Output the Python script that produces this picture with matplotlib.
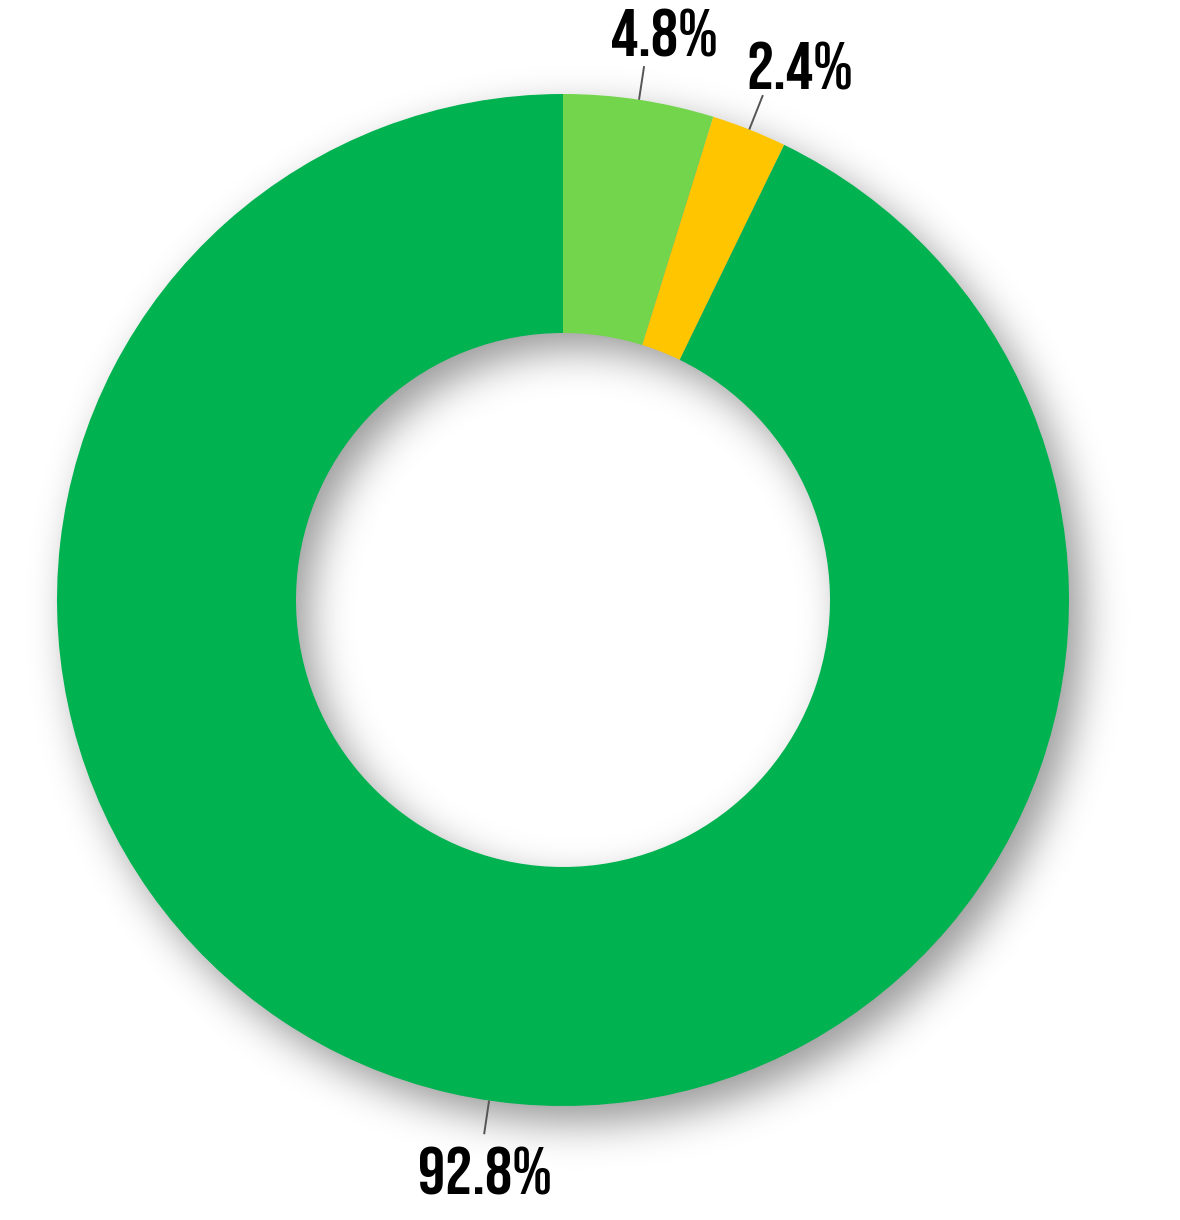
import numpy as np
import matplotlib
matplotlib.use("Agg")
import matplotlib.pyplot as plt
from matplotlib import font_manager

# ---- data ----
labels = ["4.8%", "2.4%", "92.8%"]
values = [4.8, 2.4, 92.8]
colors = ["#72D54B", "#FFC600", "#00B250"]

W, H = 1180, 1220
fig = plt.figure(figsize=(W / 100, H / 100), dpi=100)
ax = fig.add_axes([0, 0, 1, 1])

cx, cy = 563, H - 600       # centre (y up)
R, r_in = 506, 267

# ---- blurred drop shadow ----
ox, oy, sig, amax = 14, -17, 20.0, 0.40
xs = np.arange(W) + 0.5
ys = np.arange(H)[::-1] + 0.5
X, Y = np.meshgrid(xs, ys)
d = np.hypot(X - (cx + ox), Y - (cy + oy))

def phi(t):
    return 0.5 * (1 + np.tanh(0.7978845608 * (t + 0.044715 * t ** 3)))

s = np.clip(phi((R - d) / sig) - phi((r_in - d) / sig), 0, 1)
img = np.zeros((H, W, 4))
img[..., 3] = amax * s
ax.imshow(img, extent=(0, W, 0, H), origin="upper", zorder=0, interpolation="bilinear")

# ---- donut ----
wedges, _ = ax.pie(values, colors=colors, startangle=90, counterclock=False,
                   radius=R, center=(cx, cy),
                   wedgeprops=dict(width=R - r_in, linewidth=0, zorder=2))

ax.set_xlim(0, W)
ax.set_ylim(0, H)
ax.set_aspect("equal")
ax.axis("off")

# ---- font ----
avail = {f.name for f in font_manager.fontManager.ttflist}
fam = "DejaVu Sans"
for c in ["Bebas Neue", "Oswald", "League Gothic", "Fjalla One", "Roboto Condensed"]:
    if c in avail:
        fam = c
        break

# ---- labels with leader lines ----
leader_angles = [(w.theta1 + w.theta2) / 2 for w in wedges]
leader_angles[2] = -98.4
r_end = [540, 543, 540]
# text (centre-x, baseline) offset from leader end, px (y up)
text_offsets = [(20, 10), (37, 6), (1, -60)]

for i, lab in enumerate(labels):
    a = np.deg2rad(leader_angles[i])
    x1, y1 = cx + R * np.cos(a), cy + R * np.sin(a)
    x2, y2 = cx + r_end[i] * np.cos(a), cy + r_end[i] * np.sin(a)
    ax.plot([x1, x2], [y1, y2], color="#555555", lw=1.4, zorder=3,
            solid_capstyle="butt")
    ax.text(x2 + text_offsets[i][0], y2 + text_offsets[i][1], lab,
            ha="center", va="baseline", fontsize=49, fontweight="bold",
            family=fam, color="#000000", zorder=4)

fig.savefig("out.png", dpi=100)
